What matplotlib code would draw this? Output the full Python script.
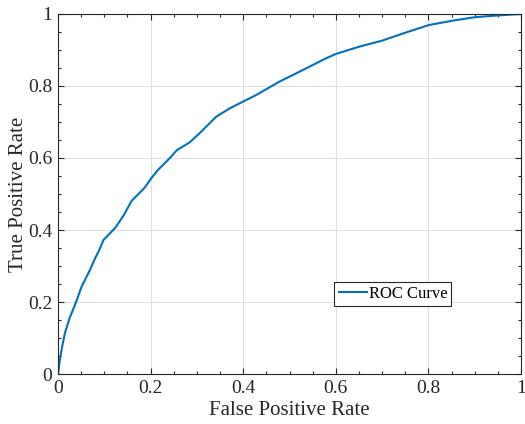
import numpy as np
import matplotlib.pyplot as plt

fpr = [0.0, 0.002, 0.004, 0.008, 0.015, 0.025, 0.039, 0.051, 0.069, 0.080, 0.089,
       0.098, 0.123, 0.141, 0.159, 0.1875, 0.201, 0.216, 0.241, 0.257, 0.284,
       0.306, 0.313, 0.342, 0.371, 0.400, 0.428, 0.478, 0.522, 0.579, 0.600,
       0.650, 0.700, 0.750, 0.800, 0.850, 0.900, 0.950, 1.0]
tpr = [0.0, 0.02, 0.039, 0.07, 0.114, 0.155, 0.200, 0.243, 0.289, 0.321, 0.344,
       0.372, 0.405, 0.439, 0.481, 0.518, 0.543, 0.567, 0.599, 0.622, 0.643,
       0.669, 0.678, 0.715, 0.738, 0.757, 0.775, 0.812, 0.840, 0.877, 0.889,
       0.909, 0.926, 0.948, 0.969, 0.981, 0.991, 0.996, 1.0]

ticks = [0, 0.2, 0.4, 0.6, 0.8, 1]
tick_labels = ['0', '0.2', '0.4', '0.6', '0.8', '1']

plt.rcParams['font.family'] = ['Liberation Serif', 'DejaVu Serif']

fig = plt.figure(figsize=(5.25, 4.24), dpi=100)
ax = fig.add_axes([0.1105, 0.1179, 0.8819, 0.8491])

ax.plot(fpr, tpr, color="#0072BD", linewidth=1.5, label="ROC Curve")

# Formatação
ax.set_xlim(0, 1)
ax.set_ylim(0, 1)
ax.set_xticks(ticks, tick_labels)
ax.set_yticks(ticks, tick_labels)
ax.set_xticks(np.arange(0, 1.001, 0.05), minor=True)
ax.set_yticks(np.arange(0, 1.001, 0.05), minor=True)
ax.tick_params(which='both', direction='in', top=True, right=True,
               colors='#262626', labelsize=14, width=0.8)
ax.tick_params(which='major', length=4, pad=4)
ax.tick_params(which='minor', length=2.5)
for s in ax.spines.values():
    s.set_color('#262626')
    s.set_linewidth(0.8)
ax.grid(True, which='major', color='#dfdfdf', linewidth=0.8)
ax.set_axisbelow(True)

ax.set_xlabel("False Positive Rate", fontsize=15, color='#262626', labelpad=3)
ax.set_ylabel("True Positive Rate", fontsize=15, color='#262626', labelpad=0)

leg = ax.legend(loc='upper left', bbox_to_anchor=(0.597, 0.256), fontsize=12,
                fancybox=False, edgecolor='#262626', framealpha=1,
                handlelength=1.7, handletextpad=0.1, borderpad=0.25,
                borderaxespad=0)
leg.get_frame().set_linewidth(0.8)

fig.savefig("out.png")
